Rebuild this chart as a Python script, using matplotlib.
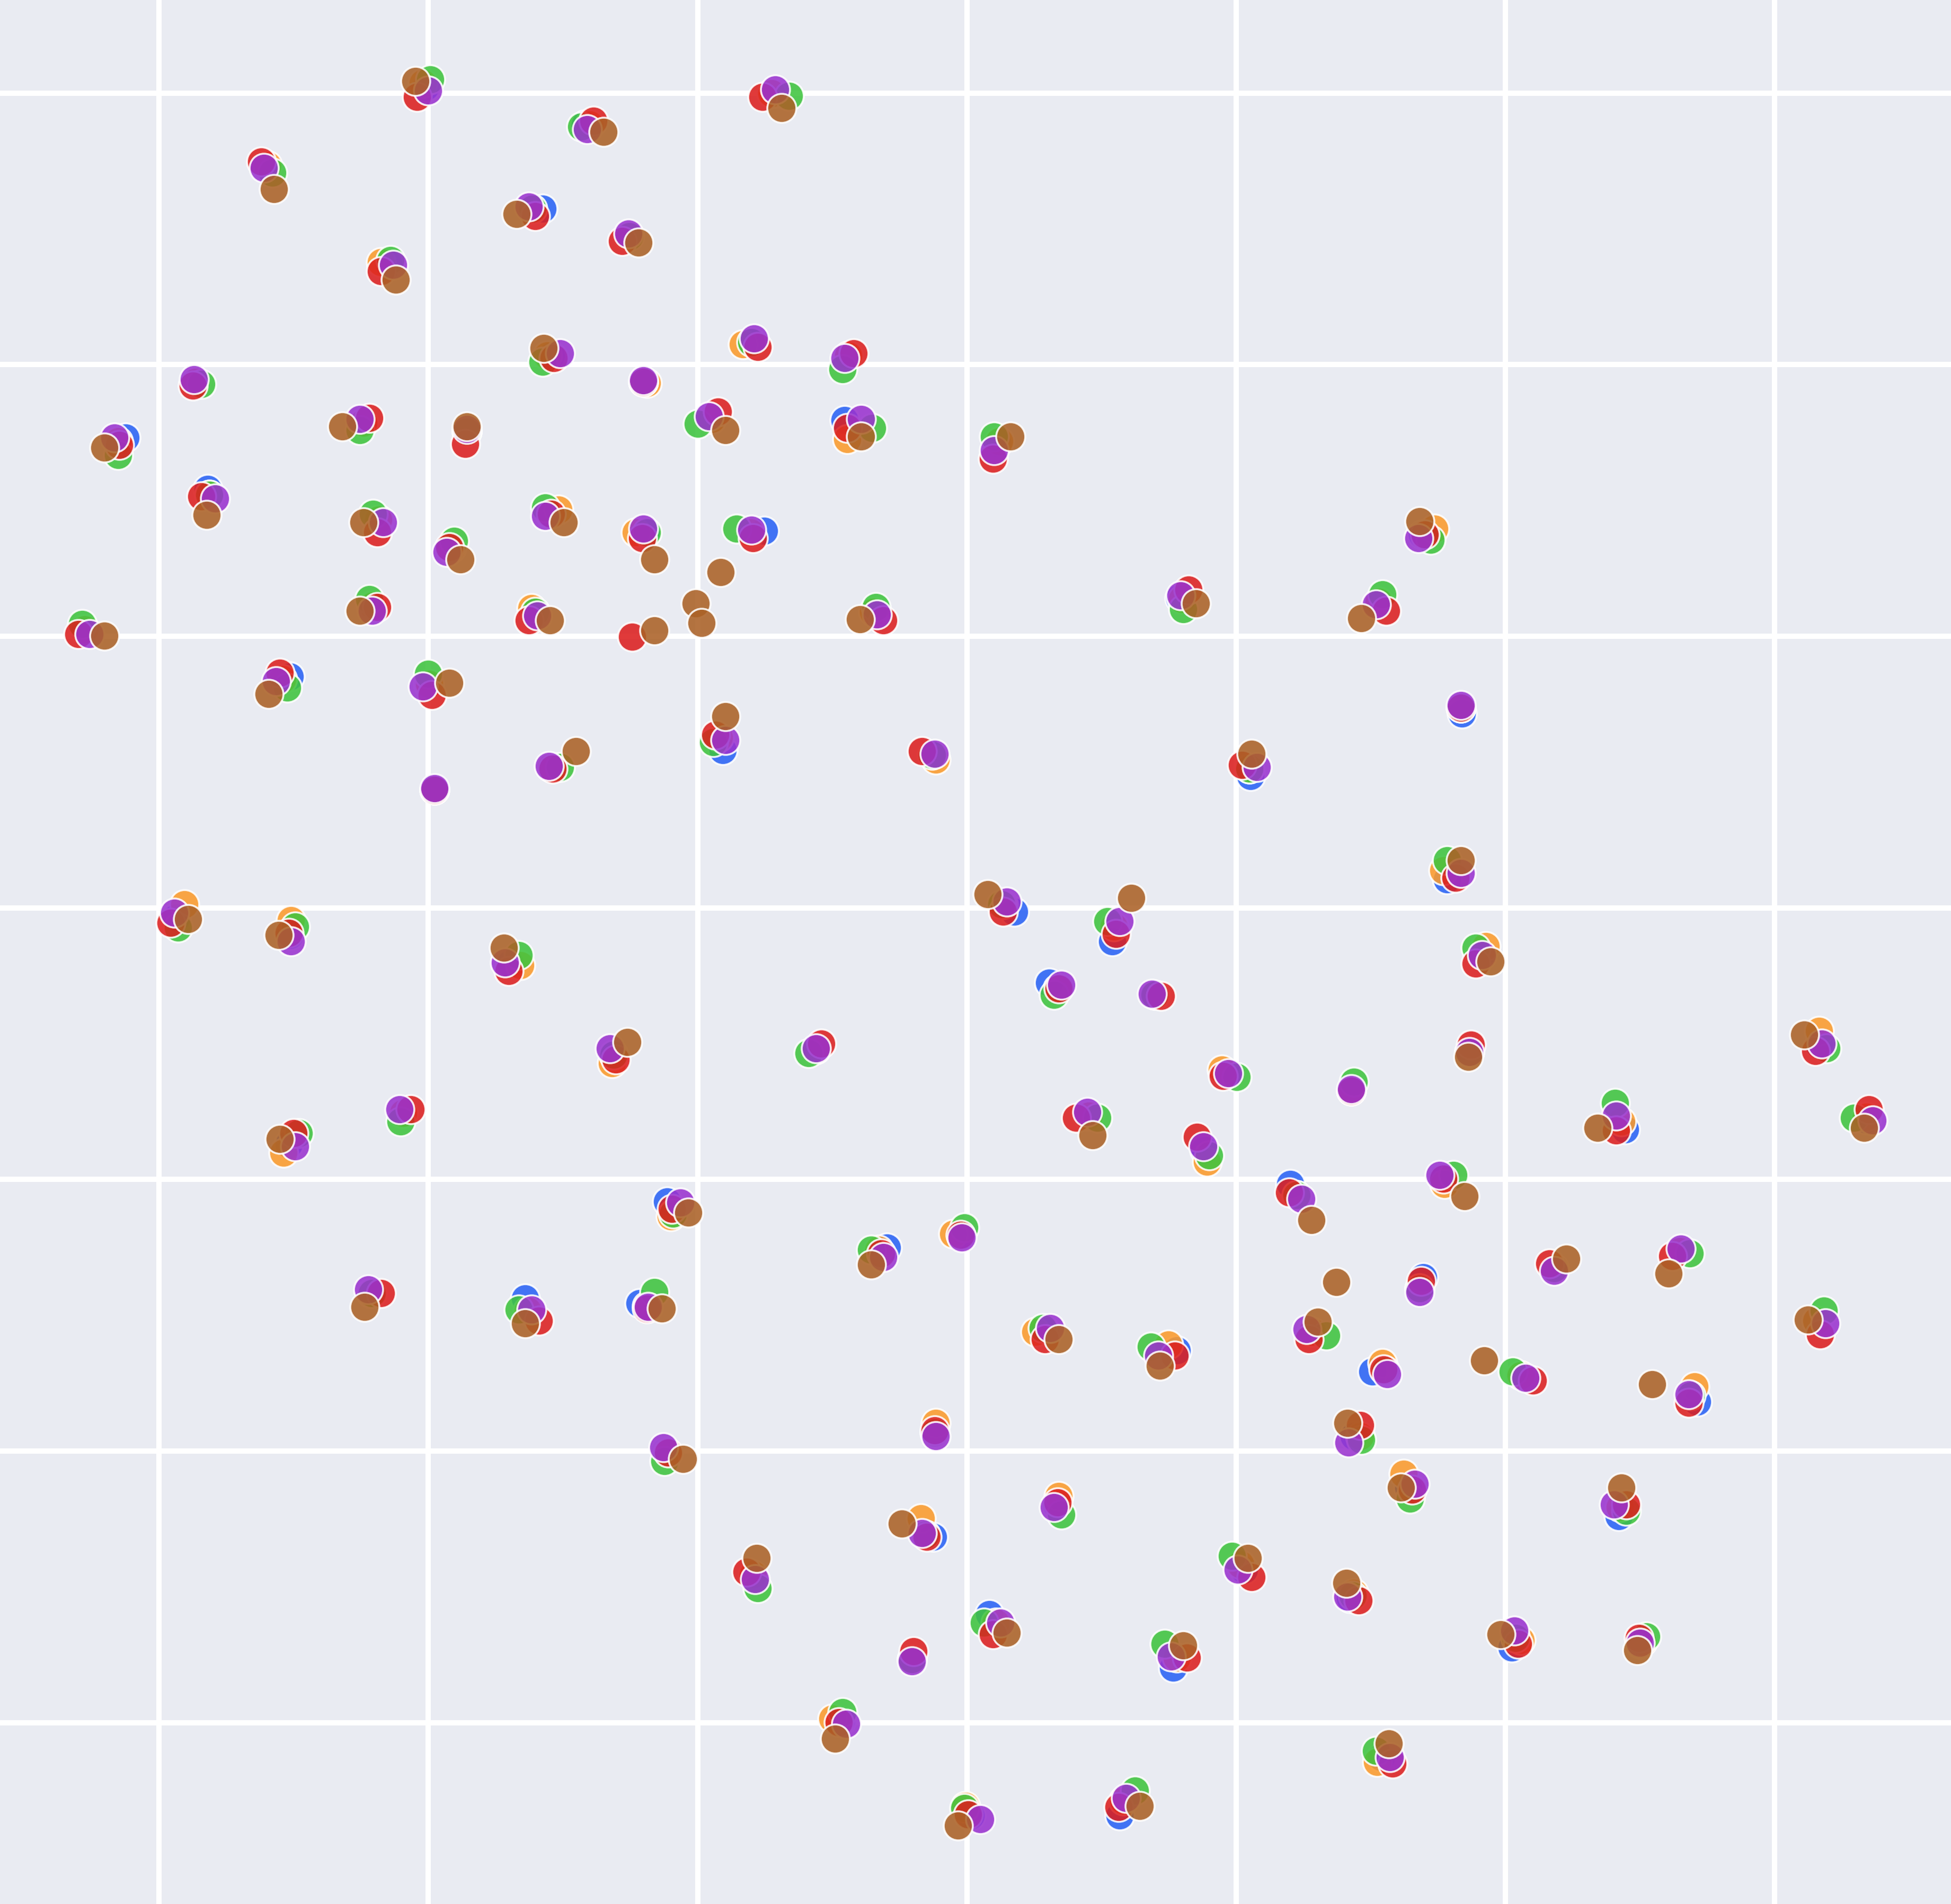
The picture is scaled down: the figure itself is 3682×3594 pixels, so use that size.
import numpy as np
import matplotlib
matplotlib.use("Agg")
import matplotlib.pyplot as plt

# embedding coordinates per series (drawn in this order, brown ends on top)
blue_x = [-43.5, -15.5, -30.7, -56.4, -34.1, -27.2, -46.5, -33.4, -17.3, -9.6, -62.0, -26.0, -48.5, -40.2,
          -20.5, -9.8, -67.6, 2.5, -61.0, -47.2, -41.4, -33.5, -25.8, -16.3, 36.6, 17.1, 33.1, -47.9, -34.7,
          -7.4, -71.0, -54.4, -43.3, 39.8, -19.6, -33.5, -42.8, -2.8, 22.8, 38.6, -63.5, -54.4, -36.7, 3.8,
          11.7, 41.3, 6.6, 15.1, 68.5, -28.4, -12.2, 20.9, 40.4, 30.9, 9.7, 19.1, 52.9, 72.3, -45.4, -54.5,
          -24.1, 26.0, 38.2, -0.5, -6.4, -47.9, -35.5, -26.3, 36.7, 47.2, 57.3, 68.3, 6.3, 16.9, 27.7, 32.6,
          44.5, 58.7, -2.6, -24.2, 31.1, 35.5, 52.4, 7.2, -2.7, -17.2, 22.3, 30.8, 1.8, 16.6, 43.8, 54.1,
          -4.4, -10.1, 33.3, 0.3, 12.3]
blue_y = [66.0, 65.5, 63.0, 59.7, 56.2, 54.0, 51.8, 44.4, 45.5, 44.3, 42.3, 42.3, 39.0, 38.3,
          39.3, 39.2, 37.8, 37.4, 33.7, 31.2, 28.9, 31.7, 30.2, 30.3, 30.0, 24.9, 24.6, 24.3, 23.8,
          23.8, 22.4, 18.6, 18.0, 15.6, 12.7, 11.3, 9.5, 12.3, 10.6, 2.3, -0.8, -2.2, -4.5, -0.3,
          -2.7, -3.8, -6.0, -7.0, -11.0, -11.8, -11.4, -13.4, -11.6, -14.7, -16.7, -19.5, -17.8, -17.0, -16.5, -19.0,
          -23.6, -22.2, -21.7, -26.3, -27.3, -31.0, -31.4, -31.8, -29.7, -29.0, -27.6, -33.2, -34.0, -35.6, -34.1, -37.3,
          -37.6, -39.7, -42.2, -43.7, -42.5, -46.6, -48.9, -48.0, -50.6, -53.7, -53.2, -55.5, -56.8, -61.1, -59.5, -59.2,
          -60.4, -65.4, -68.3, -73.0, -73.0]

orange_x = [-43.7, -15.7, -30.3, -56.2, -35.0, -27.2, -47.1, -33.7, -18.0, -9.5, -62.0, -25.7, -48.5, -40.2,
            -20.5, -9.6, -68.2, 2.6, -60.9, -47.3, -41.5, -32.8, -26.6, -17.4, 37.6, 17.3, 33.1, -47.7, -35.0,
            -7.5, -70.9, -55.0, -43.2, 39.7, -19.9, -33.4, -42.8, -2.5, 22.7, 38.3, -62.9, -54.3, -35.9, 2.9,
            11.8, 41.7, 7.3, 15.2, 68.5, -28.5, -12.1, 20.5, 40.4, 30.9, 9.8, 19.3, 52.6, 72.3, -45.3, -54.9,
            -23.8, 26.5, 38.4, -1.1, -7.1, -47.9, -35.3, -25.7, 36.4, 47.2, 57.3, 68.3, 5.5, 16.2, 27.8, 33.4,
            44.5, 58.5, -2.5, -24.1, 31.6, 35.1, 52.5, 7.4, -3.7, -17.2, 22.0, 31.1, 2.3, 16.9, 44.5, 54.3,
            -4.4, -10.8, 33.0, -0.1, 12.6]
orange_y = [66.3, 65.5, 63.0, 59.7, 56.2, 54.0, 51.9, 44.4, 45.3, 44.4, 42.3, 42.2, 39.0, 38.3,
            39.3, 37.7, 37.5, 37.5, 33.2, 31.2, 28.9, 32.0, 30.2, 30.2, 30.5, 24.8, 24.6, 24.3, 24.1,
            23.8, 22.4, 18.4, 18.0, 16.1, 13.7, 11.3, 9.5, 11.9, 11.2, 3.0, 0.3, -1.0, -4.6, 0.3,
            -1.5, -3.1, -6.5, -7.0, -9.9, -12.5, -11.4, -13.0, -11.6, -14.7, -16.7, -20.4, -17.2, -16.8, -16.5, -19.7,
            -24.8, -23.1, -22.2, -26.2, -27.5, -31.0, -32.4, -32.0, -30.6, -29.0, -27.6, -33.2, -34.1, -35.1, -34.1, -36.6,
            -37.6, -38.5, -41.4, -43.8, -42.5, -45.5, -48.2, -47.3, -49.1, -53.6, -52.8, -55.1, -57.5, -60.3, -58.9, -59.0,
            -60.4, -65.2, -68.7, -72.2, -71.8]

green_x = [-43.1, -14.3, -31.0, -55.8, -34.9, -27.1, -46.3, -34.1, -17.3, -10.0, -61.5, -26.0, -48.8, -40.2,
           -21.6, -7.6, -68.2, 2.2, -60.9, -47.7, -41.2, -33.9, -25.7, -18.5, 37.3, 17.4, 33.4, -48.0, -34.7,
           -7.3, -71.1, -54.6, -43.3, 39.7, -20.4, -32.7, -42.8, -2.8, 22.7, 38.6, -63.4, -54.0, -36.0, 2.8,
           11.3, 40.9, 7.0, 15.1, 69.1, -28.4, -12.7, 21.7, 40.4, 31.1, 10.5, 19.5, 52.1, 71.3, -45.5, -53.7,
           -23.6, 26.5, 39.1, -0.2, -7.7, -47.8, -36.0, -25.1, 36.4, 47.2, 58.1, 68.9, 6.1, 14.8, 28.9, 33.6,
           43.9, 58.2, -2.6, -24.3, 31.7, 35.6, 53.0, 7.6, -3.3, -16.8, 21.3, 31.0, 1.4, 15.9, 44.1, 54.6,
           -4.4, -10.0, 32.9, -0.2, 13.5]
green_y = [66.6, 65.3, 62.8, 59.1, 56.2, 54.0, 52.1, 43.9, 45.5, 43.3, 42.1, 42.3, 38.4, 38.3,
           38.9, 38.6, 36.4, 37.9, 33.2, 31.7, 29.5, 32.2, 30.2, 30.5, 29.6, 24.0, 25.2, 24.8, 23.8,
           24.2, 22.8, 17.7, 18.8, 16.1, 13.3, 11.3, 9.5, 12.3, 11.2, 3.8, -1.6, -1.5, -3.8, 0.3,
           -1.1, -3.2, -7.0, -7.0, -11.3, -11.8, -11.7, -13.6, -11.6, -14.0, -16.9, -19.9, -15.7, -16.9, -17.2, -18.1,
           -24.6, -23.1, -21.5, -25.7, -27.5, -31.0, -32.3, -30.9, -30.6, -29.0, -27.8, -32.4, -33.8, -35.3, -34.4, -37.2,
           -37.3, -39.2, -42.2, -44.5, -42.8, -47.5, -48.5, -48.8, -50.4, -54.7, -52.1, -55.3, -57.5, -59.2, -58.7, -58.6,
           -60.4, -64.7, -67.8, -72.4, -71.0]

red_x = [-44.2, -16.4, -30.0, -56.7, -34.7, -27.7, -47.1, -33.2, -16.8, -9.1, -62.2, -26.0, -48.0, -40.3,
         -20.0, -9.6, -68.1, 2.1, -61.5, -47.4, -41.6, -33.4, -26.1, -17.2, 36.8, 17.8, 33.7, -47.4, -35.2,
         -26.9, -6.7, -71.4, -55.2, -43.0, 39.7, -20.2, -33.3, -42.8, -3.6, 22.1, 39.3, -64.0, -54.5, -36.8,
         2.9, 12.0, 40.9, 7.4, 15.6, 68.2, -28.2, -11.7, 20.6, 40.5, 30.9, 8.8, 18.5, 52.2, 72.5, -44.7,
         -54.1, -23.7, 25.9, 38.3, -0.5, -6.9, -47.1, -34.4, -25.7, 36.5, 46.8, 56.7, 68.6, 6.3, 16.7, 27.5,
         33.5, 45.5, 58.0, -2.6, -24.0, 31.6, 35.8, 53.0, 7.3, -3.2, -17.7, 22.9, 31.5, 2.1, 17.7, 44.3,
         54.0, -4.3, -10.3, 34.2, 0.1, 12.2]
red_y = [65.2, 65.2, 63.3, 60.0, 55.6, 53.6, 51.2, 44.2, 45.1, 44.6, 42.0, 42.3, 39.4, 37.3,
         39.9, 38.6, 37.2, 36.1, 33.1, 30.2, 29.0, 31.7, 29.7, 29.7, 30.0, 25.6, 23.9, 24.2, 23.1,
         21.8, 23.1, 22.0, 18.9, 17.1, 16.1, 13.9, 11.2, 9.5, 12.6, 11.5, 2.4, -1.2, -2.0, -5.1,
         -0.3, -2.1, -4.5, -6.5, -7.1, -11.5, -12.2, -10.9, -13.5, -11.0, -14.7, -16.9, -18.4, -17.9, -16.2, -16.2,
         -18.1, -24.2, -22.9, -21.8, -26.3, -27.8, -31.0, -33.2, -32.2, -30.0, -28.6, -28.0, -34.3, -34.7, -36.0, -34.7,
         -37.1, -38.0, -39.8, -42.0, -43.8, -41.6, -46.8, -48.0, -47.8, -50.6, -53.4, -53.8, -55.7, -58.4, -60.3, -59.2,
         -58.7, -59.8, -65.5, -68.8, -72.9, -72.3]

purple_x = [-43.3, -15.4, -30.5, -56.5, -35.2, -27.2, -46.1, -32.7, -17.1, -9.8, -62.1, -26.0, -48.8, -40.2,
            -20.7, -8.5, -68.5, 2.2, -60.4, -46.9, -41.8, -33.9, -26.0, -17.3, 36.3, 17.2, 32.9, -47.8, -34.5,
            -7.2, -70.5, -55.5, -43.7, 39.7, -19.4, -33.6, -42.8, -2.6, 23.3, 39.7, -63.7, -54.3, -37.1, 3.2,
            12.3, 41.4, 7.6, 14.9, 68.7, -28.7, -12.1, 21.0, 40.4, 30.9, 9.7, 19.0, 52.2, 72.8, -45.6, -54.0,
            -23.0, 26.9, 38.0, -0.4, -6.7, -48.1, -35.0, -25.6, 36.4, 47.2, 57.4, 69.0, 6.7, 15.4, 27.3, 33.8,
            44.9, 58.0, -2.5, -24.4, 30.7, 36.0, 52.0, 7.0, -3.6, -17.0, 21.8, 30.6, 2.7, 16.4, 44.0, 54.1,
            -4.4, -9.7, 34.0, 1.1, 12.8]
purple_y = [65.7, 65.8, 62.6, 59.5, 56.4, 54.2, 51.7, 44.6, 45.8, 44.2, 42.5, 42.4, 39.3, 38.5,
            39.5, 39.3, 37.8, 36.8, 32.9, 31.0, 28.6, 31.5, 30.5, 30.4, 29.7, 25.1, 24.4, 23.9, 23.5,
            23.6, 22.0, 18.2, 17.8, 16.3, 13.5, 11.4, 9.6, 12.4, 11.3, 2.8, -0.4, -2.7, -4.4, 0.5,
            -1.1, -3.8, -6.2, -6.9, -10.9, -11.3, -11.3, -13.3, -11.6, -14.6, -16.4, -19.2, -16.7, -17.1, -16.2, -19.2,
            -23.7, -23.4, -21.5, -26.5, -28.1, -30.7, -32.3, -32.1, -30.9, -29.2, -27.4, -33.4, -33.8, -36.0, -33.9, -37.5,
            -37.8, -39.1, -42.5, -43.4, -43.0, -46.3, -48.0, -48.2, -50.3, -54.0, -53.2, -55.4, -57.5, -60.2, -58.1, -59.1,
            -60.6, -65.6, -68.3, -73.3, -71.6]

brown_x = [-44.3, -14.9, -29.2, -55.7, -36.2, -26.4, -45.9, -34.0, -50.2, -40.2, -19.4, -8.5, -69.3, 3.5,
           -61.1, -48.5, -40.7, -32.4, -25.1, -19.8, 36.4, 18.4, 31.7, -48.8, -33.5, -21.8, -21.3, -25.1,
           -8.6, -69.3, -56.1, -41.6, -19.4, -31.4, 22.9, 39.7, -62.6, -55.3, -37.2, 1.7, 13.2, 42.1,
           67.3, -27.3, 40.3, 10.1, 50.7, 72.1, -55.2, -22.4, 27.7, 40.0, -7.7, -48.4, -35.5, -24.5,
           29.7, 48.2, 56.4, 67.6, 7.4, 15.5, 28.2, 41.6, 55.1, -22.8, 30.6, 34.9, 52.6, -5.2,
           -16.9, 22.6, 30.5, 3.2, 17.4, 42.9, 53.9, -10.6, 33.9, -0.7, 13.9]
brown_y = [66.5, 64.3, 62.4, 57.8, 55.8, 53.5, 50.5, 45.0, 38.7, 38.7, 38.4, 37.9, 37.0, 37.9,
           31.6, 31.0, 28.0, 31.0, 28.0, 27.0, 31.1, 24.5, 23.3, 23.9, 23.1, 24.5, 22.9, 22.3,
           23.2, 21.9, 17.2, 18.1, 15.4, 12.6, 12.4, 3.8, -0.9, -2.2, -3.2, 1.1, 0.8, -4.3,
           -10.2, -10.8, -12.0, -18.3, -17.7, -17.7, -18.6, -24.5, -25.1, -23.2, -28.7, -32.1, -33.4, -32.2,
           -30.1, -28.2, -29.4, -33.1, -34.7, -36.8, -33.3, -36.4, -38.3, -44.3, -41.4, -46.6, -46.6, -49.5,
           -52.3, -52.3, -54.3, -58.3, -59.3, -58.4, -59.7, -66.8, -67.2, -73.8, -72.2]

series = [
    (blue_x, blue_y, "#2a62f5"),
    (orange_x, orange_y, "#fb9a2c"),
    (green_x, green_y, "#3ec43e"),
    (red_x, red_y, "#dc1f1f"),
    (purple_x, purple_y, "#9a33cf"),
    (brown_x, brown_y, "#ab6126"),
]

fig = plt.figure(figsize=(18.41, 17.97), dpi=200)
ax = fig.add_axes([0, 0, 1, 1])
ax.set_facecolor("#e9ebf2")
fig.patch.set_facecolor("#e9ebf2")

for xs, ys, color in series:
    ax.scatter(xs, ys, s=390, color=color, alpha=0.88,
               edgecolors="white", linewidths=1.3, zorder=3)

ax.set_xlim(-77.7, 79.1)
ax.set_ylim(-80.1, 73.0)
ax.set_xticks(np.arange(-3, 4) * 21.635)
ax.set_yticks(np.arange(-3, 4) * 21.84)
ax.grid(True, color="white", linewidth=3.6)
ax.set_axisbelow(True)
ax.tick_params(length=0, labelbottom=False, labelleft=False)
for sp in ax.spines.values():
    sp.set_visible(False)

fig.savefig("out.png", dpi=200, facecolor=fig.get_facecolor())
